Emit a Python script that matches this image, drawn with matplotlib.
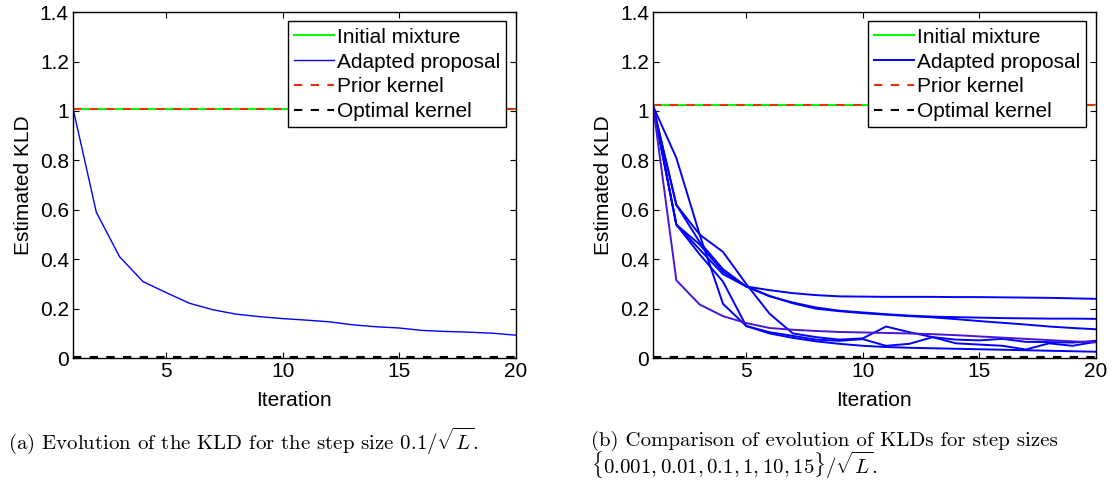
import matplotlib
matplotlib.use('Agg')
import matplotlib.pyplot as plt
import numpy as np

# 데이터
iterations = np.arange(1, 21)

kld_left = [1.01, 0.59, 0.41, 0.31, 0.265, 0.222, 0.196, 0.178, 0.168, 0.16,
            0.154, 0.147, 0.135, 0.127, 0.122, 0.112, 0.108, 0.105, 0.101, 0.093]

kld_right = [
    [1.02, 0.81, 0.50, 0.22, 0.13, 0.10, 0.082, 0.068, 0.058, 0.05,
     0.045, 0.042, 0.04, 0.038, 0.036, 0.034, 0.032, 0.03, 0.028, 0.026],
    [1.02, 0.62, 0.50, 0.43, 0.30, 0.18, 0.10, 0.085, 0.075, 0.08,
     0.128, 0.105, 0.085, 0.06, 0.055, 0.05, 0.035, 0.06, 0.05, 0.066],
    [1.02, 0.54, 0.42, 0.31, 0.13, 0.105, 0.09, 0.075, 0.07, 0.077,
     0.05, 0.058, 0.085, 0.075, 0.072, 0.078, 0.066, 0.065, 0.063, 0.07],
    [1.02, 0.54, 0.46, 0.35, 0.29, 0.275, 0.263, 0.255, 0.25, 0.249,
     0.248, 0.248, 0.248, 0.247, 0.247, 0.246, 0.245, 0.244, 0.242, 0.24],
    [1.02, 0.62, 0.47, 0.36, 0.29, 0.25, 0.225, 0.205, 0.192, 0.185,
     0.178, 0.172, 0.168, 0.166, 0.164, 0.162, 0.161, 0.16, 0.16, 0.159],
    [1.02, 0.54, 0.44, 0.34, 0.29, 0.252, 0.222, 0.2, 0.19, 0.182,
     0.176, 0.17, 0.165, 0.158, 0.15, 0.143, 0.136, 0.128, 0.122, 0.117],
]
kld_right_purple = [1.02, 0.315, 0.217, 0.17, 0.142, 0.122, 0.115, 0.11, 0.106, 0.104,
                    0.102, 0.1, 0.097, 0.093, 0.088, 0.083, 0.078, 0.073, 0.068, 0.064]

initial_left, initial_right = 1.008, 1.025
optimal_level = 0.004

yticks = [0, 0.2, 0.4, 0.6, 0.8, 1.0, 1.2, 1.4]
ytick_labels = ['0', '0.2', '0.4', '0.6', '0.8', '1', '1.2', '1.4']
xticks = [5, 10, 15, 20]

plt.rcParams['font.family'] = ['Liberation Sans', 'DejaVu Sans']
plt.rcParams['mathtext.fontset'] = 'cm'

FS = 15

fig = plt.figure(figsize=(11.15, 4.84), dpi=100)
ax1 = fig.add_axes([0.0655, 0.260, 0.397, 0.715])
ax2 = fig.add_axes([0.5857, 0.260, 0.397, 0.715])


def draw_panel(ax, curves, level, purple=None):
    ax.plot(iterations, [level] * len(iterations), color=(0, 1, 0), lw=1.5, label='Initial mixture')
    first = True
    for c in curves:
        ax.plot(iterations, c, color='blue', lw=1.0 if purple is None else 1.4,
                label='Adapted proposal' if first else None)
        first = False
    if purple is not None:
        ax.plot(iterations, purple, color='#4a14d8', lw=1.4)
    ax.plot(iterations, [level] * len(iterations), color='#e8300c', lw=1.5, ls=(0, (4, 4)), label='Prior kernel')
    ax.plot(iterations, [optimal_level] * len(iterations), color='black', lw=1.5, ls=(0, (4, 4)),
            label='Optimal kernel')

    ax.set_xlim(1, 20)
    ax.set_ylim(0, 1.4)
    ax.set_xticks(xticks)
    ax.set_yticks(yticks)
    ax.set_yticklabels(ytick_labels)
    ax.tick_params(direction='in', top=True, right=True, labelsize=FS, length=4, width=0.8, pad=3)
    for s in ax.spines.values():
        s.set_linewidth(1.0)
    ax.set_xlabel('Iteration', fontsize=FS, labelpad=7)
    ax.set_ylabel('Estimated KLD', fontsize=FS, labelpad=5)
    leg = ax.legend(loc='upper right', fontsize=FS, handlelength=1.9, handletextpad=0.15,
                    labelspacing=0.28, borderpad=0.3, fancybox=False, framealpha=1,
                    borderaxespad=0.45)
    leg.get_frame().set_edgecolor('black')
    leg.get_frame().set_linewidth(1.0)


draw_panel(ax1, [kld_left], initial_left)
draw_panel(ax2, kld_right, initial_right, purple=kld_right_purple)

# 캡션
fig.text(0.007, 0.090, r'(a) Evolution of the KLD for the step size $0.1/\sqrt{L}$.',
         fontsize=15, family='cmr10', va='center')
fig.text(0.530, 0.090, r'(b) Comparison of evolution of KLDs for step sizes',
         fontsize=15, family='cmr10', va='center')
fig.text(0.530, 0.040, r'$\{0.001, 0.01, 0.1, 1, 10, 15\}/\sqrt{L}$.',
         fontsize=15, family='cmr10', va='center')

plt.savefig('out.png', dpi=100)
